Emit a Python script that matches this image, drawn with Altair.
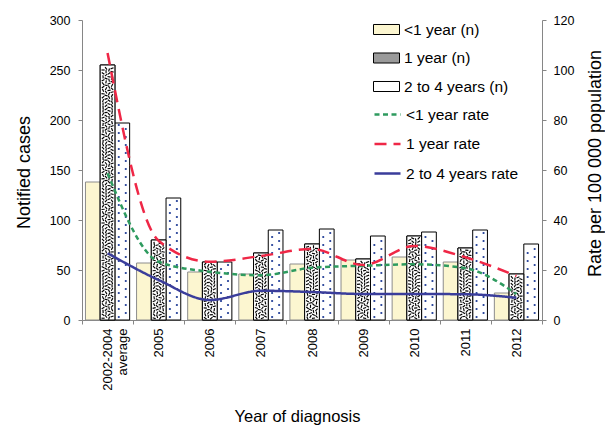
import altair as alt
import pandas as pd

# ---------------- data ----------------
years = ["2002-2004 average", "2005", "2006", "2007", "2008", "2009", "2010", "2011", "2012"]
count_series = ["<1 year (n)", "1 year (n)", "2 to 4 years (n)"]
under1_n = [138, 57, 48, 46, 56, 60, 63, 58, 27]
one_n = [255, 80, 58, 67, 76, 61, 84, 72, 46]
two4_n = [197, 122, 58, 90, 91, 84, 88, 90, 76]

rate_series = ["<1 year rate", "1 year rate", "2 to 4 years rate"]
under1_rate = [58.7, 23.3, 19.3, 17.9, 20.9, 21.7, 22.3, 20.7, 10.4]
one_rate = [106.8, 31.7, 23.3, 25.6, 28.4, 22.0, 29.6, 25.1, 17.6]
two4_rate = [26.7, 16.0, 8.0, 11.7, 11.2, 10.4, 10.4, 10.3, 8.9]

# ---------------- tables ----------------
counts = pd.DataFrame(
    [(y, s, v) for s, vals in zip(count_series, [under1_n, one_n, two4_n]) for y, v in zip(years, vals)],
    columns=["Year", "Series", "Count"],
)
rates = pd.DataFrame(
    [(y, s, v) for s, vals in zip(rate_series, [under1_rate, one_rate, two4_rate]) for y, v in zip(years, vals)],
    columns=["Year", "Series", "Rate"],
)

# texture rows (fill patterns) derived from the bar heights
speck_rows = []
for yi, (yr, v) in enumerate(zip(years, one_n)):
    for c in range(4):
        r = 0
        while True:
            ty = 1.8 + 3.4 * r + (1.7 if c % 2 else 0)
            if ty > v - 1.8:
                break
            speck_rows.append((yr, ty, (r * r * 7 + r * 29 + c * 53 + yi * 17) % 180, c))
            r += 1
speck = pd.DataFrame(speck_rows, columns=["Year", "ty", "ang", "col"])

dot_rows = []
for yr, v in zip(years, two4_n):
    r = 0
    while True:
        ty = 3 + 4 * r
        if ty > v - 2:
            break
        dot_rows.append((yr, ty, r % 2))
        r += 1
dots = pd.DataFrame(dot_rows, columns=["Year", "ty", "col"])

# ---------------- styling ----------------
CREAM = "#fcf6d0"
GREY_EDGE = "#8c8c8c"
NAVY_DOT = "#1f3c96"
GREEN = "#2e9b5f"
RED = "#ef2746"
BLUE = "#3a3d9b"
AX = "#868686"

xscale = alt.Scale(type="band", domain=years, paddingInner=0, paddingOuter=0)
xaxis = alt.Axis(
    title="Year of diagnosis", labelAngle=270, labelAlign="right", labelBaseline="middle",
    labelFontSize=13, labelPadding=4, tickSize=4, tickBand="extent", labelLineHeight=15,
    labelExpr="split(datum.label, ' ')", titleFontSize=16.5, titleX=215, titleY=101,
    titleAlign="center", titleBaseline="alphabetic", titleAngle=0,
)
X = alt.X("Year:N", sort=years, scale=xscale, axis=xaxis)

lscale = alt.Scale(domain=[0, 300], nice=False)
laxis = alt.Axis(
    title="Notified cases", values=[0, 50, 100, 150, 200, 250, 300], tickSize=4, labelPadding=8,
    labelFontSize=12.5, titleFontSize=18, titleAngle=270, titleX=-53, titleY=152,
    titleAlign="center", titleBaseline="alphabetic",
)
rscale = alt.Scale(domain=[0, 120], nice=False)
raxis = alt.Axis(
    orient="right", title="Rate per 100 000 population", values=[0, 20, 40, 60, 80, 100, 120],
    tickSize=4, labelPadding=7, labelFontSize=12.5, titleFontSize=18, titleAngle=270,
    titleX=58, titleY=143, titleAlign="center", titleBaseline="alphabetic",
)
XOFF = alt.XOffset("Series:N", scale=alt.Scale(domain=count_series, paddingOuter=0.235, paddingInner=0))

bars = alt.Chart(counts).mark_bar(strokeWidth=1).encode(
    x=X,
    xOffset=XOFF,
    y=alt.Y("Count:Q", scale=lscale, axis=laxis),
    fill=alt.Fill(
        "Series:N",
        scale=alt.Scale(domain=count_series, range=[CREAM, "#9a9a9a", "white"]),
        legend=alt.Legend(
            orient="none", legendX=291, legendY=-4, title=None, padding=0,
            symbolType="M-1,-0.385H1V0.385H-1Z", symbolSize=676, symbolStrokeColor="black",
            symbolStrokeWidth=1, labelFontSize=15.5, labelOffset=4, rowPadding=6.5, labelColor="black",
        ),
    ),
    stroke=alt.condition(alt.datum.Series != "<1 year (n)", alt.value("black"), alt.value(GREY_EDGE)),
)

one_white = alt.Chart(counts).transform_filter(alt.datum.Series == "1 year (n)").mark_bar(
    fill="white", stroke="black", strokeWidth=1
).encode(x=X, xOffset=XOFF, y=alt.Y("Count:Q", scale=lscale, axis=laxis))

speck_offsets = [-4.5, -1.5, 1.5, 4.5]
speck_layers = [
    alt.Chart(speck).transform_filter(alt.datum.col == c).mark_point(
        shape="M-1,0L1,0", size=10, filled=False, stroke="black", strokeWidth=1.15, opacity=1,
        xOffset=off,
    ).encode(x=X, y=alt.Y("ty:Q", scale=lscale, axis=laxis), angle=alt.Angle("ang:Q", scale=None))
    for c, off in enumerate(speck_offsets)
]

bar_step = 460 / 9 / (3 + 2 * 0.235)
dot_offsets = [bar_step - 3.5, bar_step + 3.5]
dot_layers = [
    alt.Chart(dots).transform_filter(alt.datum.col == c).mark_circle(
        size=5, color=NAVY_DOT, opacity=1, xOffset=off
    ).encode(x=X, y=alt.Y("ty:Q", scale=lscale, axis=laxis))
    for c, off in enumerate(dot_offsets)
]

line_legend = alt.Legend(
    orient="none", legendX=291, legendY=80, title=None, padding=0, symbolType="stroke",
    symbolSize=676, symbolStrokeWidth=2.5, labelFontSize=15.5, labelOffset=4, rowPadding=6.5,
    labelColor="black",
)
lines = alt.Chart(rates).mark_line(strokeWidth=2.5, interpolate="monotone").encode(
    x=X,
    y=alt.Y("Rate:Q", scale=rscale, axis=raxis),
    stroke=alt.Stroke("Series:N", scale=alt.Scale(domain=rate_series, range=[GREEN, RED, BLUE]), legend=line_legend),
    strokeDash=alt.StrokeDash(
        "Series:N", scale=alt.Scale(domain=rate_series, range=[[5, 3.5], [12, 7], [1, 0]]), legend=line_legend
    ),
)

count_layer = alt.layer(bars, one_white, *speck_layers, *dot_layers)

chart = (
    alt.layer(count_layer, lines)
    .resolve_scale(y="independent")
    .properties(
        width=460, height=300,
        autosize=alt.AutoSizeParams(type="none"),
        padding={"left": 82, "top": 20, "right": 63, "bottom": 108},
    )
    .configure(font="Liberation Sans")
    .configure_view(stroke=None)
    .configure_axis(domainColor=AX, tickColor=AX, labelColor="black", titleColor="black",
                    titleFontWeight="normal", grid=False)
)

chart.save("out.html", embed_options={"renderer": "svg", "actions": False})
